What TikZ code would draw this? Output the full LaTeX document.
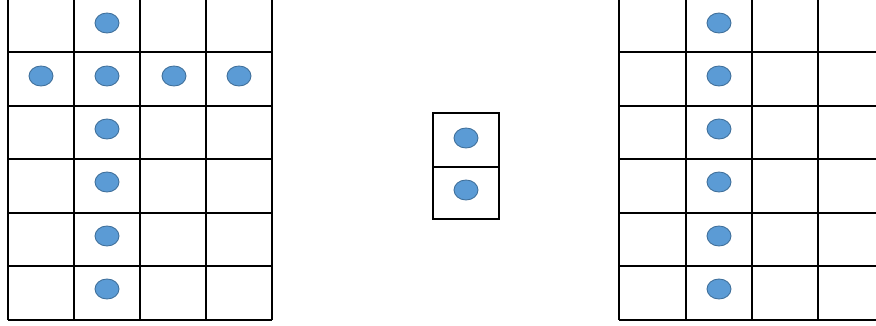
\documentclass[tikz,border=0pt]{standalone}
\usetikzlibrary{shapes.geometric}
\begin{document}
\begin{tikzpicture}[x=1pt,y=-1pt,
  gridline/.style={draw=black,line width=1.3pt},
  dot/.style={ellipse,minimum width=24pt,minimum height=20pt,inner sep=0pt,fill=dotblue,draw=dotedge,line width=0.9pt}]
\definecolor{dotblue}{HTML}{5B9BD5}
\definecolor{dotedge}{HTML}{41719C}
\useasboundingbox (0,0) rectangle (876,326);
\fill[white] (0,0) rectangle (876,326);
% left grid
\foreach \x in {8,74,140,206,272} \draw[gridline] (\x,-2) -- (\x,320);
\foreach \y in {52,106,159,213,266,320} \draw[gridline] (8,\y) -- (272,\y);
% middle box
\draw[gridline] (433,113) rectangle (499,219);
\draw[gridline] (433,167) -- (499,167);
% right grid
\foreach \x in {619,686,752,818} \draw[gridline] (\x,-2) -- (\x,320);
\foreach \y in {52,106,159,213,266,320} \draw[gridline] (619,\y) -- (880,\y);
% left dots
\foreach \y [count=\i] in {23,76,129,182,236,289} \node[dot] (l\i) at (107,\y) {};
\node[dot] (la) at (41,76) {};
\node[dot] (lb) at (174,76) {};
\node[dot] (lc) at (239,76) {};
% middle dots
\node[dot] (m1) at (466,138) {};
\node[dot] (m2) at (466,190) {};
% right dots
\foreach \y [count=\i] in {23,76,129,182,236,289} \node[dot] (r\i) at (719,\y) {};
\end{tikzpicture}
\end{document}
